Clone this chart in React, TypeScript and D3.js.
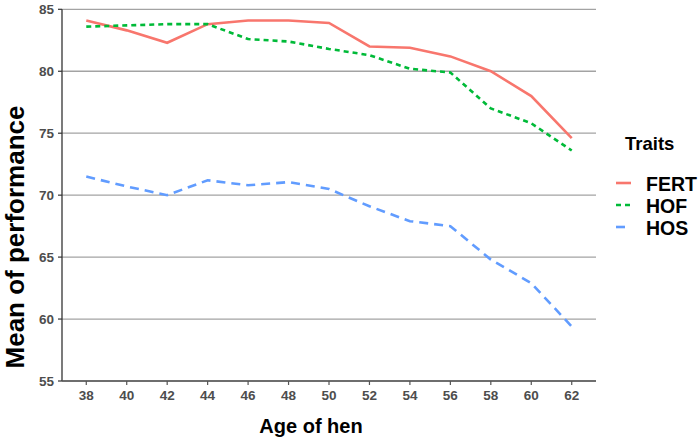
import React from "react";
import * as d3 from "d3";

// values
const ages = [38, 40, 42, 44, 46, 48, 50, 52, 54, 56, 58, 60, 62];
const fert = [84.1, 83.3, 82.3, 83.8, 84.1, 84.1, 83.9, 82.0, 81.9, 81.2, 80.0, 78.0, 74.6];
const hof = [83.6, 83.7, 83.8, 83.8, 82.6, 82.4, 81.8, 81.3, 80.2, 79.9, 77.0, 75.8, 73.6];
const hos = [71.5, 70.7, 70.0, 71.2, 70.8, 71.05, 70.5, 69.1, 67.9, 67.5, 64.8, 62.9, 59.4];
const yTicks = [55, 60, 65, 70, 75, 80, 85];

const series = [
    { name: "FERT", values: fert, color: "#F8766D", dash: "none" },
    { name: "HOF", values: hof, color: "#00BA38", dash: "5,4" },
    { name: "HOS", values: hos, color: "#619CFF", dash: "9,6" },
];

const App: React.FC = () => {
    const width = 699;
    const height = 441;
    const left = 62;
    const right = 596;
    const top = 9.3;
    const bottom = 381;

    // ggplot style 5% expansion on x
    const span = d3.max(ages)! - d3.min(ages)!;
    const x = d3
        .scaleLinear()
        .domain([d3.min(ages)! - span * 0.05, d3.max(ages)! + span * 0.05])
        .range([left, right]);
    const y = d3.scaleLinear().domain([55, 85]).range([bottom, top]);

    const line = d3
        .line<number>()
        .x((_, i) => x(ages[i]))
        .y((d) => y(d));

    const tickFont = "'Liberation Sans', Arial, sans-serif";

    return (
        <div style={{ position: "absolute", left: 0, top: 0 }}>
            <svg width={width} height={height} style={{ display: "block", background: "#fff" }}>
                {/* horizontal gridlines */}
                {yTicks.map((t) => (
                    <line key={"g" + t} x1={left} x2={right} y1={y(t)} y2={y(t)} stroke="#a3a3a3" strokeWidth={1.3} />
                ))}

                {/* axis lines */}
                <line x1={left} x2={left} y1={top} y2={bottom} stroke="#333" strokeWidth={1.3} />
                <line x1={left} x2={right} y1={bottom} y2={bottom} stroke="#555" strokeWidth={1.3} />

                {/* y ticks */}
                {yTicks.map((t) => (
                    <g key={"y" + t}>
                        <line x1={left - 4} x2={left} y1={y(t)} y2={y(t)} stroke="#333" strokeWidth={1.2} />
                        <text
                            x={left - 8}
                            y={y(t)}
                            dy="0.36em"
                            textAnchor="end"
                            fontFamily={tickFont}
                            fontWeight="bold"
                            fontSize={13.5}
                            fill="#4d4d4d"
                        >
                            {t}
                        </text>
                    </g>
                ))}

                {/* x ticks */}
                {ages.map((a) => (
                    <g key={"x" + a}>
                        <line x1={x(a)} x2={x(a)} y1={bottom} y2={bottom + 4} stroke="#555" strokeWidth={1.2} />
                        <text
                            x={x(a)}
                            y={399.5}
                            textAnchor="middle"
                            fontFamily={tickFont}
                            fontWeight="bold"
                            fontSize={13.5}
                            fill="#4d4d4d"
                        >
                            {a}
                        </text>
                    </g>
                ))}

                {/* series lines */}
                {series.map((s) => (
                    <path
                        key={s.name}
                        d={line(s.values)!}
                        fill="none"
                        stroke={s.color}
                        strokeWidth={2.6}
                        strokeDasharray={s.dash}
                    />
                ))}

                {/* axis titles */}
                <text
                    x={311}
                    y={433}
                    textAnchor="middle"
                    fontFamily={tickFont}
                    fontWeight="bold"
                    fontSize={20}
                    fill="#000"
                >
                    Age of hen
                </text>
                <text
                    transform="translate(24,237) rotate(-90)"
                    textAnchor="middle"
                    fontFamily={tickFont}
                    fontWeight="bold"
                    fontSize={26}
                    fill="#000"
                >
                    Mean of performance
                </text>

                {/* legend */}
                <text x={625} y={150} fontFamily={tickFont} fontWeight="bold" fontSize={18.5} fill="#000">
                    Traits
                </text>
                {series.map((s, i) => {
                    const cy = 184 + i * 22;
                    return (
                        <g key={"l" + s.name}>
                            <line
                                x1={616}
                                x2={631}
                                y1={cy - 1}
                                y2={cy - 1}
                                stroke={s.color}
                                strokeWidth={2.6}
                                strokeDasharray={s.dash === "9,6" ? "9,6" : s.dash}
                            />
                            <text
                                x={646}
                                y={cy}
                                dy="0.36em"
                                fontFamily={tickFont}
                                fontWeight="bold"
                                fontSize={19.5}
                                fill="#000"
                            >
                                {s.name}
                            </text>
                        </g>
                    );
                })}
            </svg>
        </div>
    );
};

export default App;
